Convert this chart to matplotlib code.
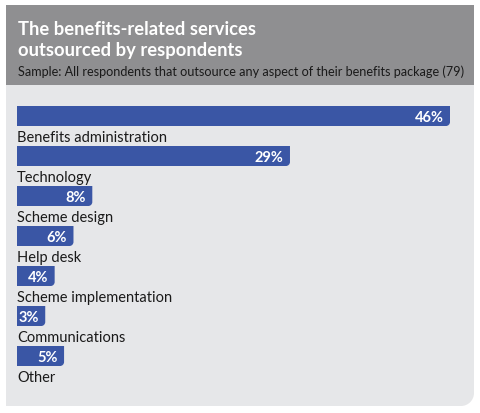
import matplotlib
matplotlib.use("Agg")
from matplotlib import pyplot as plt
from matplotlib.path import Path
from matplotlib.patches import PathPatch, Rectangle

plt.rcParams['font.family'] = ['Lato', 'DejaVu Sans']

categories = ["Benefits administration", "Technology", "Scheme design", "Help desk",
              "Scheme implementation", "Communications", "Other"]
values = [46, 29, 8, 6, 4, 3, 5]
value_labels = ["46%", "29%", "8%", "6%", "4%", "3%", "5%"]

title_lines = ["The benefits-related services", "outsourced by respondents"]
subtitle = "Sample: All respondents that outsource any aspect of their benefits package (79)"

W, H = 480, 414
bar_color = "#3a56a5"
header_color = "#8f8f91"
panel_color = "#e6e7e9"


def round_br_path(x0, y0, x1, y1, rx, ry):
    # rectangle with only the bottom-right corner rounded (y grows downward here)
    rx = min(rx, (x1 - x0) / 2)
    k = 0.55
    verts = [(x0, y0), (x1, y0), (x1, y1 - ry),
             (x1, y1 - ry + k * ry), (x1 - rx + k * rx, y1), (x1 - rx, y1),
             (x0, y1), (x0, y0)]
    codes = [Path.MOVETO, Path.LINETO, Path.LINETO,
             Path.CURVE4, Path.CURVE4, Path.CURVE4,
             Path.LINETO, Path.CLOSEPOLY]
    return Path(verts, codes)


fig = plt.figure(figsize=(W / 100, H / 100), dpi=100)
fig.patch.set_facecolor("white")

# background in pixel coordinates (y downward)
bg = fig.add_axes([0, 0, 1, 1])
bg.set_xlim(0, W)
bg.set_ylim(H, 0)
bg.axis("off")
bg.add_patch(PathPatch(round_br_path(6, 86, 474, 407, 13, 13), facecolor=panel_color,
                       edgecolor="none"))
bg.add_patch(Rectangle((6, 6), 468, 80, facecolor=header_color, edgecolor="none"))
for k, line in enumerate(title_lines):
    bg.text(18, 35 + 21 * k, line, color="white", fontsize=13.2, fontweight="bold",
            va="baseline", ha="left")
bg.text(18, 76, subtitle, color="#1a1a1a", fontsize=9.1, va="baseline", ha="left")

# bar axes: x 0..46 spans pixels 17..450, rows 40 px apart starting at 117
ax = fig.add_axes([17 / W, (H - 397) / H, 433 / W, 300 / H])
ax.set_xlim(0, 46)
ax.set_ylim(7.0, -0.5)
ax.axis("off")

bh = 0.5
rx = 4 * 46 / 433
ry = 4 / 40
for i, (cat, v, lab) in enumerate(zip(categories, values, value_labels)):
    ax.add_patch(PathPatch(round_br_path(0, i - bh / 2, v, i + bh / 2, rx, ry),
                           facecolor=bar_color, edgecolor="none"))
    ax.text(v - 0.65, i + 0.02, lab, color="white", fontsize=10.5, fontweight="bold",
            ha="right", va="center")
    ax.text(0, i + 0.53, cat, color="#1a1a1a", fontsize=10.5, ha="left", va="center")

fig.savefig("out.png", dpi=100, facecolor="white")
